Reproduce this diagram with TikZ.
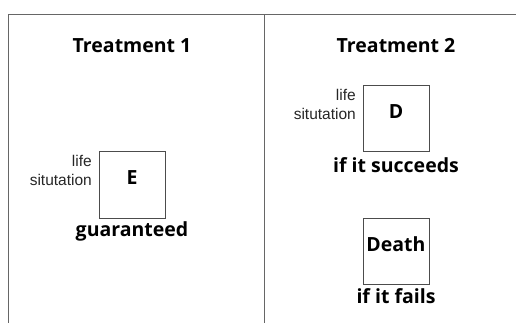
\documentclass[tikz,border=0pt]{standalone}
\usepackage{fontspec}
\setmainfont{Open Sans}
\newfontfamily\sidefont{Liberation Sans}
\tikzstyle{frame}=[draw=black!60,line width=1pt]
\tikzstyle{state}=[rectangle,draw=black!70,line width=1pt,minimum size=66pt,inner sep=0pt,text height=14pt,text depth=14pt,font=\bfseries\fontsize{19.5}{22}\selectfont]
\tikzstyle{title}=[font=\bfseries\fontsize{19.5}{22}\selectfont]
\tikzstyle{outcome}=[font=\bfseries\fontsize{19.5}{22}\selectfont]
\tikzstyle{side}=[anchor=east,align=right,inner sep=0pt,text=black!85,font=\sidefont\fontsize{15.5}{19}\selectfont]

\begin{document}
\begin{tikzpicture}[x=1pt,y=-1pt]
        \useasboundingbox (0,0) rectangle (516,323);
        % frame
        \path[frame] (8,323) -- (8,15) -- (516,15);
        \path[frame] (264,15) -- (264,323);
        % treatment 1
        \node[title] (t1) at (132, 46) {Treatment 1};
        \node[state] (E) at (132, 185) {E};
        \node[side] (lifeE) at (92, 170) {life\\situtation};
        \node[outcome] (g) at (132, 231) {guaranteed};
        % treatment 2
        \node[title] (t2) at (396, 46) {Treatment 2};
        \node[state] (D) at (396, 119) {D};
        \node[side] (lifeD) at (356, 104) {life\\situtation};
        \node[outcome] (s) at (396, 165) {if it succeeds};
        \node[state] (X) at (396, 251) {Death};
        \node[outcome] (f) at (396, 296) {if it fails};
    \end{tikzpicture}
\end{document}
